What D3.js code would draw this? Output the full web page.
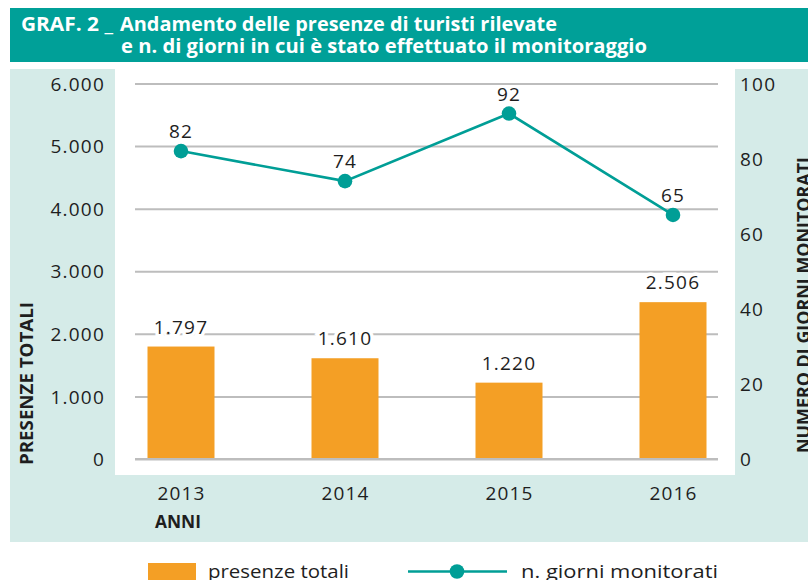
<!DOCTYPE html>
<html><head><meta charset="utf-8">
<script src="https://cdn.jsdelivr.net/npm/d3@7"></script>
<style>
body{margin:0;background:#fff;}
svg{display:block;font-family:"Open Sans","Noto Sans",sans-serif;}
</style></head>
<body><svg id="c" width="808" height="580"></svg>
<script>
const years = ["2013","2014","2015","2016"];
const presenze = [1797,1610,1220,2506];
const giorni = [82,74,92,65];
const leftTicks = [0,1000,2000,3000,4000,5000,6000];
const leftTickLabels = ["0","1.000","2.000","3.000","4.000","5.000","6.000"];
const rightTicks = [0,20,40,60,80,100];
const titleLine0 = "GRAF. 2 _";
const titleLine1 = "Andamento delle presenze di turisti rilevate";
const titleLine2 = "e n. di giorni in cui è stato effettuato il monitoraggio";
const yTitleLeft = "PRESENZE TOTALI";
const yTitleRight = "NUMERO DI GIORNI MONITORATI";
const xTitle = "ANNI";
const legendLabels = ["presenze totali","n. giorni monitorati"];

const TEAL="#00a098", LINE="#009e96", PANEL="#d5ebe8", BAR="#f49f25", TXT="#1e1e1e";
const itFmt = d3.formatLocale({decimal:",",thousands:".",grouping:[3],currency:["€",""]}).format(",d");

const svg = d3.select("#c");

// backgrounds
svg.append("rect").attr("x",10).attr("y",8).attr("width",798).attr("height",54).attr("fill",TEAL);
svg.append("rect").attr("x",10).attr("y",69).attr("width",798).attr("height",473).attr("fill",PANEL);
svg.append("rect").attr("x",115).attr("y",69).attr("width",620).attr("height",406).attr("fill","#fff");

// title
const tt = svg.append("g").attr("fill","#fff").attr("font-weight",700).attr("font-size",19);
tt.append("text").attr("x",21).attr("y",31).attr("textLength",92).attr("lengthAdjust","spacingAndGlyphs").text(titleLine0);
tt.append("text").attr("x",120).attr("y",31).attr("textLength",437).attr("lengthAdjust","spacingAndGlyphs").text(titleLine1);
tt.append("text").attr("x",121).attr("y",53).attr("textLength",526).attr("lengthAdjust","spacingAndGlyphs").text(titleLine2);

// scales
const y = d3.scaleLinear().domain([0,6000]).range([459,83.5]);
const y2 = d3.scaleLinear().domain([0,100]).range([459,83.5]);
const x = d3.scalePoint().domain(years).range([181,673]);
const barW = 67;

// left axis with gridlines
const gl = svg.append("g").attr("transform","translate(135,0)")
  .call(d3.axisLeft(y).tickValues(leftTicks).tickSize(-583).tickPadding(30)
        .tickFormat((d,i)=>leftTickLabels[i]));
gl.select(".domain").remove();
gl.selectAll(".tick line").attr("stroke","#bdbdbd").attr("stroke-width",2);
gl.selectAll(".tick text").attr("fill",TXT).attr("font-size",19).attr("letter-spacing",1.2)
  .attr("font-family","Open Sans").attr("dy","0.35em");

// right axis
const gr = svg.append("g").attr("transform","translate(735,0)")
  .call(d3.axisRight(y2).tickValues(rightTicks).tickSize(0).tickPadding(5));
gr.select(".domain").remove();
gr.selectAll(".tick text").attr("fill",TXT).attr("font-size",19).attr("letter-spacing",1.2)
  .attr("font-family","Open Sans").attr("dy","0.35em");

// x axis
const gx = svg.append("g").attr("transform","translate(0,486)")
  .call(d3.axisBottom(x).tickSize(0).tickPadding(0));
gx.select(".domain").remove();
gx.selectAll(".tick text").attr("fill",TXT).attr("font-size",19).attr("letter-spacing",1.2)
  .attr("font-family","Open Sans");

// bars
svg.append("g").selectAll("rect").data(presenze).join("rect")
  .attr("x",(d,i)=>x(years[i])-barW/2).attr("width",barW)
  .attr("y",d=>y(d)).attr("height",d=>y(0)-y(d)).attr("fill",BAR);

// redraw baseline over bars
svg.append("line").attr("x1",135).attr("x2",718).attr("y1",y(0)).attr("y2",y(0))
  .attr("stroke","#bdbdbd").attr("stroke-width",2);

// bar labels
svg.append("g").selectAll("text").data(presenze).join("text")
  .attr("x",(d,i)=>x(years[i])).attr("y",d=>y(d)-13)
  .attr("text-anchor","middle").attr("font-size",19).attr("letter-spacing",1.2)
  .attr("fill",TXT).attr("stroke","#fff").attr("stroke-width",7).attr("paint-order","stroke")
  .text(d=>itFmt(d));

// line
const line = d3.line().x((d,i)=>x(years[i])).y(d=>y2(d));
svg.append("path").datum(giorni).attr("d",line).attr("fill","none")
  .attr("stroke",LINE).attr("stroke-width",2.6);
svg.append("g").selectAll("circle").data(giorni).join("circle")
  .attr("cx",(d,i)=>x(years[i])).attr("cy",d=>y2(d)).attr("r",7.3).attr("fill",LINE);
svg.append("g").selectAll("text").data(giorni).join("text")
  .attr("x",(d,i)=>x(years[i])).attr("y",d=>y2(d)-13)
  .attr("text-anchor","middle").attr("font-size",19).attr("letter-spacing",1.2)
  .attr("fill",TXT).text(d=>d);

// axis titles
svg.append("text").attr("transform","translate(33,465) rotate(-90)")
  .attr("font-weight",700).attr("font-size",17).attr("fill",TXT)
  .attr("textLength",163).attr("lengthAdjust","spacingAndGlyphs").text(yTitleLeft);
svg.append("text").attr("transform","translate(810,453) rotate(-90)")
  .attr("font-weight",700).attr("font-size",17).attr("fill",TXT)
  .attr("textLength",296).attr("lengthAdjust","spacingAndGlyphs").text(yTitleRight);
svg.append("text").attr("x",155).attr("y",528)
  .attr("font-weight",700).attr("font-size",18).attr("fill",TXT)
  .attr("textLength",46).attr("lengthAdjust","spacingAndGlyphs").text(xTitle);

// legend
const lg = svg.append("g");
lg.append("rect").attr("x",148).attr("y",563).attr("width",48).attr("height",20).attr("fill",BAR);
lg.append("text").attr("x",208).attr("y",578).attr("font-size",19).attr("fill",TXT)
  .attr("textLength",141).attr("lengthAdjust","spacingAndGlyphs").text(legendLabels[0]);
lg.append("line").attr("x1",408).attr("x2",507).attr("y1",571.5).attr("y2",571.5)
  .attr("stroke",LINE).attr("stroke-width",2.6);
lg.append("circle").attr("cx",457).attr("cy",571.5).attr("r",7.3).attr("fill",LINE);
lg.append("text").attr("x",521).attr("y",578).attr("font-size",19).attr("fill",TXT)
  .attr("textLength",197).attr("lengthAdjust","spacingAndGlyphs").text(legendLabels[1]);
</script></body></html>
